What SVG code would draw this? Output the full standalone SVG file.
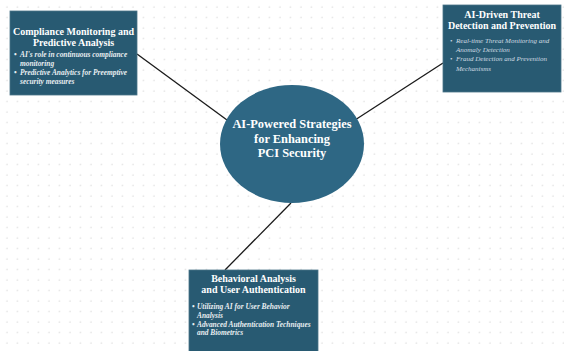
<svg xmlns="http://www.w3.org/2000/svg" width="564" height="351" viewBox="0 0 564 351">
  <defs>
    <pattern id="dots" x="2" y="2" width="10.5" height="10.5" patternUnits="userSpaceOnUse">
      <circle cx="5" cy="5" r="0.8" fill="#dedede"/>
    </pattern>
    <style>
      .box { fill: #285a72; stroke: #4a7488; stroke-width: 0.8; }
      .hub { fill: #2e6784; }
      .edge { stroke: #1a1a1a; stroke-width: 1.3; fill: none; }
      .title { font-family: "Liberation Serif", "Times New Roman", serif; font-weight: bold; fill: #ffffff; text-anchor: middle; }
      .hub-title { font-size: 12.4px; }
      .node-title { font-size: 10px; }
      .item { font-family: "Liberation Serif", "Times New Roman", serif; font-style: italic; font-size: 7.4px; fill: #e8eef1; }
      .item.strong { font-weight: bold; }
      .item.soft { fill: #cfdbe2; font-size: 7px; }
    </style>
  </defs>

  <!-- background with dot grid -->
  <rect width="564" height="351" fill="#ffffff"/>
  <rect width="564" height="351" fill="url(#dots)"/>

  <!-- connectors from the hub to each topic -->
  <g id="connectors">
    <line class="edge" x1="137" y1="54" x2="227" y2="120"/>
    <line class="edge" x1="443" y1="63" x2="355" y2="120"/>
    <line class="edge" x1="291" y1="203" x2="225" y2="270"/>
  </g>

  <!-- central hub -->
  <g id="hub">
    <ellipse class="hub" cx="292" cy="144" rx="72" ry="59"/>
    <text class="title hub-title" x="292" y="128">AI-Powered Strategies</text>
    <text class="title hub-title" x="292" y="143">for Enhancing</text>
    <text class="title hub-title" x="292" y="157">PCI Security</text>
  </g>

  <!-- compliance topic -->
  <g id="compliance">
    <rect class="box" x="10" y="11" width="127" height="84"/>
    <text class="title node-title" x="73.5" y="35">Compliance Monitoring and</text>
    <text class="title node-title" x="73.5" y="46">Predictive Analysis</text>
    <text class="item strong" x="14" y="57">•</text>
    <text class="item strong" x="20" y="57">AI's role in continuous compliance</text>
    <text class="item strong" x="20" y="66">monitoring</text>
    <text class="item strong" x="14" y="75">•</text>
    <text class="item strong" x="20" y="75">Predictive Analytics for Preemptive</text>
    <text class="item strong" x="20" y="84">security measures</text>
  </g>

  <!-- threat detection topic -->
  <g id="threat">
    <rect class="box" x="443" y="5" width="118" height="87"/>
    <text class="title node-title" x="502" y="18">AI-Driven Threat</text>
    <text class="title node-title" x="502" y="29">Detection and Prevention</text>
    <text class="item soft" x="450" y="43">•</text>
    <text class="item soft" x="456" y="43">Real-time Threat Monitoring and</text>
    <text class="item soft" x="456" y="52">Anomaly Detection</text>
    <text class="item soft" x="450" y="61">•</text>
    <text class="item soft" x="456" y="61">Fraud Detection and Prevention</text>
    <text class="item soft" x="456" y="71">Mechanisms</text>
  </g>

  <!-- behavioral topic -->
  <g id="behavioral">
    <rect class="box" x="189" y="270" width="129" height="90"/>
    <text class="title node-title" x="253.5" y="282">Behavioral Analysis</text>
    <text class="title node-title" x="253.5" y="293">and User Authentication</text>
    <text class="item strong" x="192" y="309">•</text>
    <text class="item strong" x="197" y="309">Utilizing AI for User Behavior</text>
    <text class="item strong" x="197" y="318">Analysis</text>
    <text class="item strong" x="192" y="327">•</text>
    <text class="item strong" x="197" y="327">Advanced Authentication Techniques</text>
    <text class="item strong" x="197" y="335">and Biometrics</text>
  </g>
</svg>
